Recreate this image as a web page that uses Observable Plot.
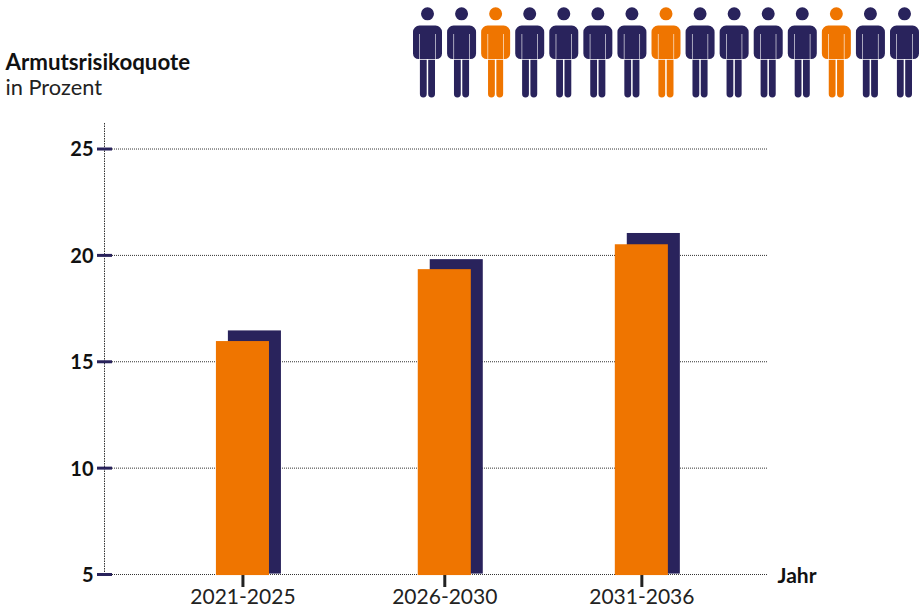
<!DOCTYPE html>
<html lang="de">
<head>
<meta charset="utf-8">
<script src="https://cdn.jsdelivr.net/npm/d3@7"></script>
<script src="https://cdn.jsdelivr.net/npm/@observablehq/plot@0.6"></script>
<style>
  html, body { margin: 0; padding: 0; background: #fff; }
  svg { display: block; }
</style>
</head>
<body>
<div id="chart"></div>
<script>
// Armutsrisikoquote je Zeitraum, in Prozent
const periods = ["2021-2025", "2026-2030", "2031-2036"];
const slots = [0, 1.012, 2];
const frontValues = [15.95, 19.33, 20.5];
const backValues = [16.45, 19.8, 21.03];
const yTicks = [5, 10, 15, 20, 25];
const crowd = [0, 1, 2, 3, 4, 5, 6, 7, 8, 9, 10, 11, 12, 13, 14];
const highlighted = [2, 7, 12];

const navy = "#29235c";
const orange = "#ef7500";
const font = "Lato, 'Open Sans', sans-serif";

const barHalf = 0.133;
const barShift = 0.06;

// Figure drawn around its own centre, one unit per pixel at r = 45
const person = {
  draw(c, size) {
    const k = Math.sqrt(size / Math.PI) / 45;
    const X = (v) => v * k, Y = (v) => v * k;
    c.moveTo(X(6.5), Y(-41.2));
    c.arc(0, Y(-41.2), X(6.5), 0, 2 * Math.PI);
    c.closePath();
    // torso with two slits separating the arms
    c.moveTo(X(-14.5), Y(-23));
    c.arc(X(-8), Y(-23), X(6.5), Math.PI, 1.5 * Math.PI);
    c.lineTo(X(8), Y(-29.5));
    c.arc(X(8), Y(-23), X(6.5), 1.5 * Math.PI, 2 * Math.PI);
    c.lineTo(X(14.5), Y(-1.5));
    c.arc(X(9), Y(-1.5), X(5.5), 0, 0.5 * Math.PI);
    c.lineTo(X(8.1), Y(4));
    c.lineTo(X(8.1), Y(-21));
    c.lineTo(X(7.5), Y(-21));
    c.lineTo(X(7.5), Y(4));
    c.lineTo(X(-7.5), Y(4));
    c.lineTo(X(-7.5), Y(-21));
    c.lineTo(X(-8.1), Y(-21));
    c.lineTo(X(-8.1), Y(4));
    c.lineTo(X(-9), Y(4));
    c.arc(X(-9), Y(-1.5), X(5.5), 0.5 * Math.PI, Math.PI);
    c.closePath();
    // legs
    for (const [a, b] of [[-7.6, -0.8], [0.7, 7.5]]) {
      const m = (a + b) / 2, h = (b - a) / 2;
      c.moveTo(X(a), Y(4.8));
      c.lineTo(X(b), Y(4.8));
      c.lineTo(X(b), Y(39));
      c.arc(X(m), Y(39), X(h), 0, Math.PI);
      c.closePath();
    }
  }
};

const header = Plot.plot({
  width: 922,
  height: 105,
  margin: 0,
  x: { domain: [0, 14], range: [427, 904], axis: null },
  y: { domain: [0, 105], range: [0, 105], axis: null },
  marks: [
    Plot.dot(crowd, {
      x: (d) => d,
      y: () => 54.5,
      r: 45,
      symbol: person,
      stroke: "none",
      fill: (d) => (highlighted.includes(d) ? orange : navy)
    }),
    Plot.text(["Armutsrisikoquote"], {
      frameAnchor: "top-left",
      dx: 5, dy: 54,
      textAnchor: "start",
      lineAnchor: "top",
      fontFamily: font, fontWeight: 700, fontSize: 22.3, fill: "#111"
    }),
    Plot.text(["in Prozent"], {
      frameAnchor: "top-left",
      dx: 5, dy: 79.5,
      textAnchor: "start",
      lineAnchor: "top",
      fontFamily: font, fontWeight: 400, fontSize: 21.8, fill: "#222"
    })
  ]
});

const table = (values, shift) => periods.map((p, i) => ({
  slot: slots[i],
  left: slots[i] - barHalf + shift,
  right: slots[i] + barHalf + shift,
  value: values[i]
}));

const chart = Plot.plot({
  width: 922,
  height: 507,
  marginTop: 18,
  marginBottom: 38,
  marginLeft: 112,
  marginRight: 155,
  x: { type: "linear", domain: [-0.654, 2.63] },
  y: { domain: [5, 26.2] },
  marks: [
    Plot.ruleX([-0.654], {
      dx: -8,
      stroke: "#333", strokeWidth: 1, strokeDasharray: "1.5,1"
    }),
    Plot.ruleY(yTicks, {
      stroke: "#333", strokeWidth: 1, strokeDasharray: "1,1"
    }),
    // tick strokes and their labels sit one pixel apart vertically
    Plot.axisY({
      ticks: yTicks,
      label: null,
      tickSize: 15,
      tickFormat: () => "",
      stroke: navy,
      strokeWidth: 3
    }),
    Plot.axisY({
      ticks: yTicks,
      label: null,
      tickSize: 0,
      tickPadding: 19,
      dy: 1,
      fontFamily: font, fontWeight: 700, fontSize: 20, color: "#111"
    }),
    Plot.axisX({
      ticks: slots,
      tickFormat: (d) => periods[slots.indexOf(d)],
      label: null,
      tickSize: 13,
      tickPadding: 2,
      stroke: "#222",
      strokeWidth: 3,
      fontFamily: font, fontSize: 21, color: "#222"
    }),
    Plot.rectY(table(backValues, barShift), {
      x1: "left", x2: "right", y1: 5.02, y2: "value", fill: navy
    }),
    Plot.rectY(table(frontValues, 0), {
      x1: "left", x2: "right", y1: 4.95, y2: "value", fill: orange
    }),
    Plot.text(["Jahr"], {
      x: () => 2.63, y: () => 5,
      dx: 10, dy: 2,
      textAnchor: "start",
      fontFamily: font, fontWeight: 700, fontSize: 21, fill: "#111"
    })
  ]
});

const root = document.getElementById("chart");
root.append(header, chart);
</script>
</body>
</html>
